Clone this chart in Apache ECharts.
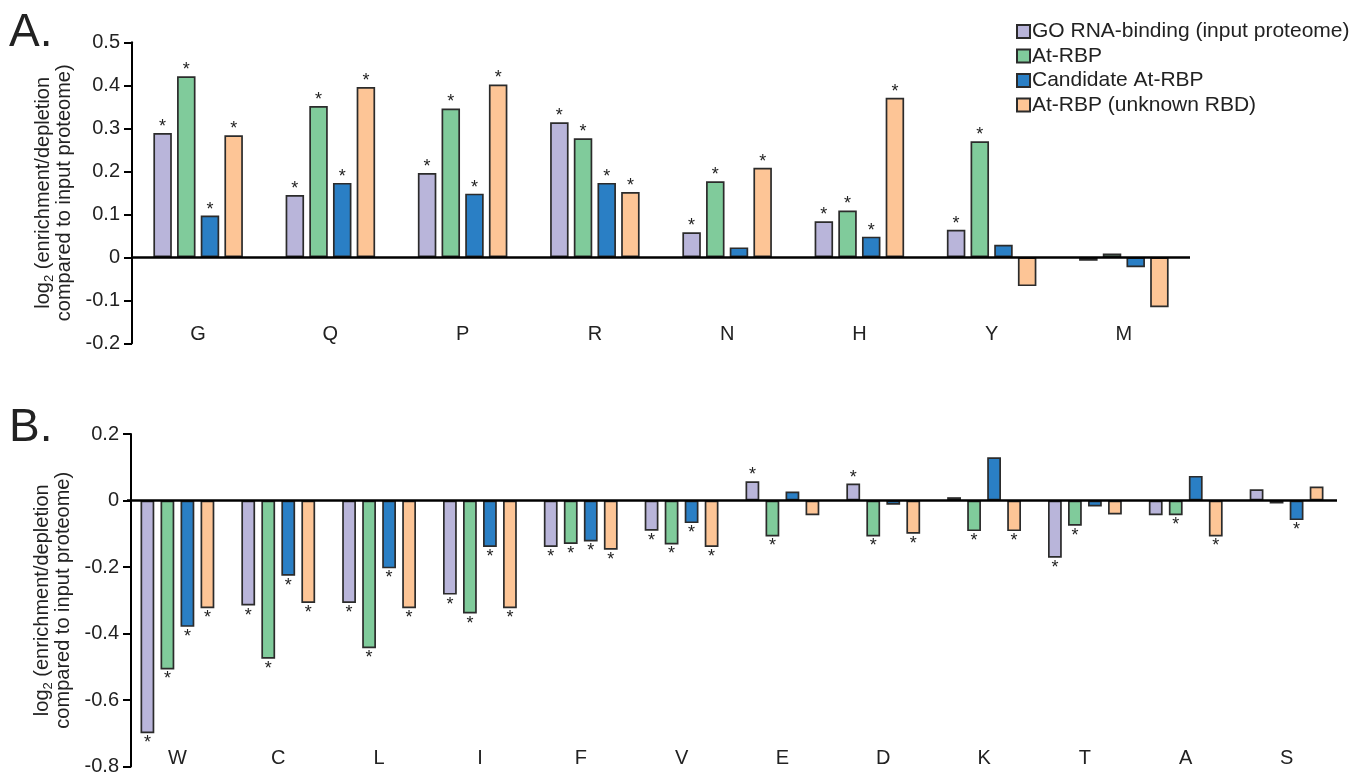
<!DOCTYPE html>
<html>
<head>
<meta charset="utf-8">
<script src="https://cdn.jsdelivr.net/npm/echarts@6/dist/echarts.min.js"></script>
<style>
html,body{margin:0;padding:0;background:#fff;}
#chart{width:1365px;height:781px;}
</style>
</head>
<body>
<div id="chart"></div>
<script>
// ---------- Data ----------
const seriesNames = ['GO RNA-binding (input proteome)', 'At-RBP', 'Candidate At-RBP', 'At-RBP (unknown RBD)'];

const catsA = ['G', 'Q', 'P', 'R', 'N', 'H', 'Y', 'M'];
const goA   = [0.289, 0.145, 0.196, 0.314, 0.058, 0.084, 0.064, -0.008];
const atA   = [0.421, 0.352, 0.346, 0.277, 0.177, 0.109, 0.270, 0.009];
const candA = [0.097, 0.173, 0.148, 0.173, 0.023, 0.048, 0.029, -0.023];
const unkA  = [0.284, 0.396, 0.402, 0.152, 0.208, 0.371, -0.067, -0.116];
const sigGoA   = [1, 1, 1, 1, 1, 1, 1, 0];
const sigAtA   = [1, 1, 1, 1, 1, 1, 1, 0];
const sigCandA = [1, 1, 1, 1, 0, 1, 0, 0];
const sigUnkA  = [1, 1, 1, 1, 1, 1, 0, 0];

const catsB = ['W', 'C', 'L', 'I', 'F', 'V', 'E', 'D', 'K', 'T', 'A', 'S'];
const goB   = [-0.700, -0.316, -0.308, -0.283, -0.140, -0.091, 0.058, 0.051, 0.010, -0.172, -0.044, 0.034];
const atB   = [-0.508, -0.476, -0.444, -0.340, -0.131, -0.132, -0.108, -0.108, -0.092, -0.076, -0.044, -0.009];
const candB = [-0.380, -0.226, -0.204, -0.140, -0.123, -0.068, 0.027, -0.013, 0.130, -0.018, 0.074, -0.059];
const unkB  = [-0.324, -0.308, -0.324, -0.324, -0.148, -0.140, -0.044, -0.100, -0.092, -0.042, -0.108, 0.042];
const sigGoB   = [1, 1, 1, 1, 1, 1, 1, 1, 0, 1, 0, 0];
const sigAtB   = [1, 1, 1, 1, 1, 1, 1, 1, 1, 1, 1, 0];
const sigCandB = [1, 1, 1, 1, 1, 1, 0, 0, 0, 0, 0, 1];
const sigUnkB  = [1, 1, 1, 1, 1, 1, 0, 1, 1, 0, 1, 0];

const ticksA = { min: -0.2, max: 0.5, interval: 0.1 };
const ticksB = { min: -0.8, max: 0.2, interval: 0.2 };

// ---------- Styling ----------
const colors = ['#b9b5da', '#80cb9b', '#2a7fc5', '#fdc596'];
const FONT = '"Liberation Sans", Arial, sans-serif';
const border = '#2b2b2b';

function items(vals, sig) {
  return vals.map((v, i) => ({
    value: v,
    label: {
      show: sig[i] === 1,
      position: v >= 0 ? 'top' : 'bottom',
      distance: v >= 0 ? -3 : 1
    }
  }));
}

function makeSeries(idx, vals, sig, axisIdx, barWidth, barGap, withZero) {
  const s = {
    name: seriesNames[idx],
    type: 'bar',
    xAxisIndex: axisIdx,
    yAxisIndex: axisIdx,
    data: items(vals, sig),
    barWidth: barWidth,
    barGap: barGap,
    itemStyle: { color: colors[idx], borderColor: border, borderWidth: 1.7 },
    label: {
      formatter: '*',
      fontFamily: FONT,
      fontSize: 18,
      color: '#222'
    },
    emphasis: { disabled: true },
    animation: false
  };
  if (withZero) {
    s.markLine = {
      silent: true,
      symbol: 'none',
      label: { show: false },
      lineStyle: { color: '#000', width: 2.5, type: 'solid' },
      data: [{ yAxis: 0 }],
      animation: false
    };
  }
  return s;
}

const yName = '{a|log}{s|2}{a| (enrichment/depletion}\n{a|compared to input proteome)}';
const yNameRich = {
  a: { fontFamily: FONT, fontSize: 20, color: '#222', verticalAlign: 'top', lineHeight: 21 },
  s: { fontFamily: FONT, fontSize: 13, color: '#222', verticalAlign: 'top', padding: [9, 0, 0, 0], lineHeight: 14 }
};

function yAxisCfg(grid, t, offset) {
  return {
    type: 'value',
    gridIndex: grid,
    min: t.min, max: t.max, interval: t.interval,
    offset: offset,
    name: yName,
    nameLocation: 'middle',
    nameGap: 53,
    nameTextStyle: { rich: yNameRich },
    axisLine: { show: true, lineStyle: { color: '#000', width: 2 } },
    axisTick: { show: true, length: 8, lineStyle: { color: '#000', width: 2 } },
    splitLine: { show: false },
    axisLabel: {
      fontFamily: FONT, fontSize: 20, color: '#222', margin: 12,
      formatter: v => (Math.abs(v) < 1e-9 ? '0' : String(Math.round(v * 10) / 10))
    }
  };
}

function xAxisCfg(grid, cats, margin) {
  return {
    type: 'category',
    gridIndex: grid,
    data: cats,
    axisLine: { show: false, onZero: false },
    axisTick: { show: false },
    splitLine: { show: false },
    axisLabel: { fontFamily: FONT, fontSize: 20, color: '#222', margin: margin, interval: 0 }
  };
}

const option = {
  backgroundColor: '#fff',
  animation: false,
  grid: [
    { left: 132, top: 42.3, width: 1058, height: 301 },
    { left: 127, top: 434, width: 1210, height: 332.5 }
  ],
  legend: {
    orient: 'vertical',
    left: 1011,
    top: 16,
    itemWidth: 13,
    itemHeight: 13,
    itemGap: 3.5,
    icon: 'rect',
    data: seriesNames,
    selectedMode: false,
    textStyle: { fontFamily: FONT, fontSize: 21, color: '#222', padding: [0, 0, 0, -3] }
  },
  xAxis: [xAxisCfg(0, catsA, -19), xAxisCfg(1, catsB, -18)],
  yAxis: [yAxisCfg(0, ticksA, 0), yAxisCfg(1, ticksB, -4)],
  graphic: [
    { type: 'text', left: 9, top: 10, style: { text: 'A.', font: '46px ' + FONT, fill: '#222' } },
    { type: 'text', left: 9, top: 405, style: { text: 'B.', font: '46px ' + FONT, fill: '#222' } }
  ],
  series: [
    makeSeries(0, goA, sigGoA, 0, 18.5, '28%', true),
    makeSeries(1, atA, sigAtA, 0, 18.5, '28%', false),
    makeSeries(2, candA, sigCandA, 0, 18.5, '28%', false),
    makeSeries(3, unkA, sigUnkA, 0, 18.5, '28%', false),
    makeSeries(0, goB, sigGoB, 1, 13.8, '45%', true),
    makeSeries(1, atB, sigAtB, 1, 13.8, '45%', false),
    makeSeries(2, candB, sigCandB, 1, 13.8, '45%', false),
    makeSeries(3, unkB, sigUnkB, 1, 13.8, '45%', false)
  ]
};

const chart = echarts.init(document.getElementById('chart'), null, { renderer: 'canvas' });
chart.setOption(option);
</script>
</body>
</html>
